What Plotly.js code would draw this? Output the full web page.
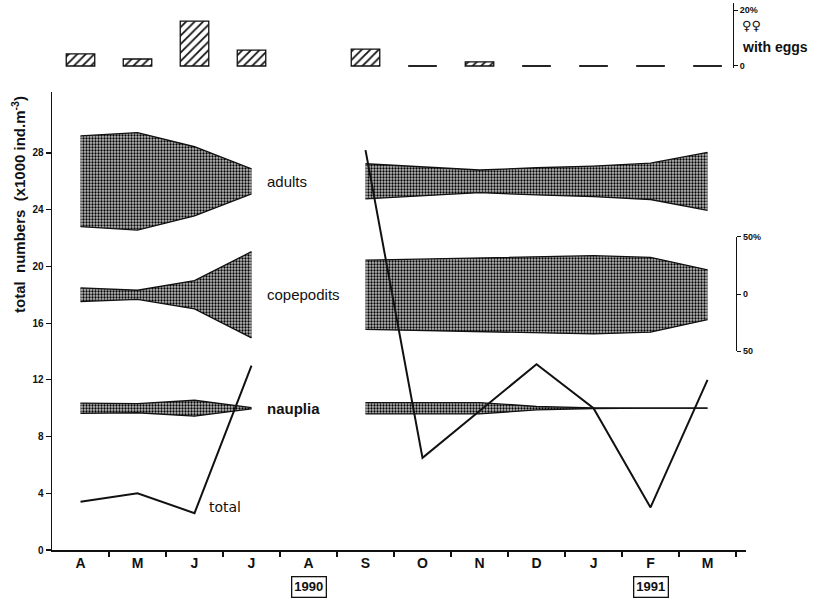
<!DOCTYPE html>
<html><head><meta charset="utf-8">
<script src="https://cdn.plot.ly/plotly-3.0.1.min.js"></script>
<style>html,body{margin:0;padding:0;background:#fff}#chart{width:813px;height:600px}</style>
</head><body><div id="chart"></div>
<script>
// ---- data ----
const monthLabels = ['A','M','J','J','A','S','O','N','D','J','F','M'];
const sampleMonthIndex = [0,1,2,3,5,6,7,8,9,10,11];      // Apr 1990 ... Mar 1991 (no August sample)
const adultsPct = [80,86,61,22,31,26,20,24,27,32,51];
const copepoditsPct = [12,8,25,76,61,63,66,68,69,66,44];
const naupliaPct = [9,8,14,1,10,10.5,10,3,0.5,0,0];
const totalNumbers = [3.4,4.0,2.6,13.0,28.2,6.5,9.8,13.1,10.0,3.0,12.0];
const eggsPct = [4.3,2.5,16,5.7,6,0,1.5,0,0,0,0];
const stageNames = ['adults','copepodits','nauplia'];
const yearLabels = ['1990','1991'];
const yearMonthIndex = [4,10];

// ---- build ----
const ink = '#111';
const xs = sampleMonthIndex.map(i => i + 0.5);
const segments = [];
let cur = [0];
for (let k = 1; k < xs.length; k++) {
  if (sampleMonthIndex[k] - sampleMonthIndex[k-1] > 1) { segments.push(cur); cur = [k]; }
  else cur.push(k);
}
segments.push(cur);

const stagePct = [adultsPct, copepoditsPct, naupliaPct];
const stageCenter = [26, 18, 10];
const unitsPerPct = 4/50;      // 50% of the scale bar = 4 units from the band centre
const traces = [];

stagePct.forEach((pct, s) => {
  segments.forEach(seg => {
    const sx = seg.map(k => xs[k]);
    const lo = seg.map(k => stageCenter[s] - pct[k]/2*unitsPerPct);
    const hi = seg.map(k => stageCenter[s] + pct[k]/2*unitsPerPct);
    traces.push({type:'scatter', mode:'lines', x:sx, y:lo, line:{color:ink, width:1.3}, hoverinfo:'skip'});
    traces.push({type:'scatter', mode:'lines', x:sx, y:hi, line:{color:ink, width:1.3}, hoverinfo:'skip',
      fill:'tonexty', fillcolor:'#9a9a9a',
      fillpattern:{shape:'.', size:3, solidity:0.45, fgcolor:'#000', bgcolor:'#bdbdbd'}});
  });
});

segments.forEach(seg => {
  traces.push({type:'scatter', mode:'lines', x:seg.map(k => xs[k]), y:seg.map(k => totalNumbers[k]),
    line:{color:ink, width:2}, hoverinfo:'skip'});
});

// egg bars
traces.push({type:'bar', x:xs, y:eggsPct, width:0.5, yaxis:'y2',
  marker:{color:'#fff', line:{color:ink, width:1.3},
    pattern:{shape:'/', size:6, solidity:0.3, fgcolor:ink, bgcolor:'#fff'}}, hoverinfo:'skip'});
// zero-height samples drawn as a flat line
const zx = [], zy = [];
xs.forEach((x, k) => { if (eggsPct[k] === 0) { zx.push(x-0.25, x+0.25, null); zy.push(0, 0, null); } });
traces.push({type:'scatter', mode:'lines', x:zx, y:zy, yaxis:'y2', line:{color:ink, width:1.3}, hoverinfo:'skip'});
// anchor trace for the percentage scale bar
traces.push({type:'scatter', mode:'markers', x:[0], y:[0], yaxis:'y3', marker:{opacity:0}, hoverinfo:'skip'});

const bold = {family:'Liberation Sans, Arial, sans-serif', weight:'bold', color:ink};
const annotations = [];
stageNames.forEach((n, s) => {
  annotations.push({x:3.74, y:stageCenter[s], xref:'x', yref:'y', text:n, showarrow:false, xanchor:'left', yanchor:'middle',
    font:{family:'Liberation Sans, Arial, sans-serif', size:15, color:ink, weight: s===2 ? 'bold' : 'normal'}});
});
annotations.push({x:2.72, y:3.0, xref:'x', yref:'y', text:'total', showarrow:false, xanchor:'left', yanchor:'middle',
  font:{family:'DejaVu Sans, sans-serif', size:14, color:ink}});
yearLabels.forEach((t, i) => {
  annotations.push({x:yearMonthIndex[i]+0.5, y:-0.0673, xref:'x', yref:'paper', text:t, showarrow:false,
    xanchor:'center', yanchor:'middle', bordercolor:ink, borderwidth:1.3, borderpad:2,
    font:Object.assign({size:13}, bold)});
});
annotations.push({x:-0.0475, y:0.6273, xref:'paper', yref:'paper', textangle:-90, showarrow:false,
  xanchor:'center', yanchor:'middle',
  text:'total\u00a0\u00a0numbers\u00a0\u00a0(x1000 ind.m<sup>-3</sup>)',
  font:Object.assign({size:15}, bold)});
annotations.push({x:0.9914, y:0.953, xref:'paper', yref:'paper', text:'\u2640\u2640', showarrow:false,
  xanchor:'left', yanchor:'middle', font:{family:'DejaVu Sans, sans-serif', weight:'bold', size:13, color:ink}});
annotations.push({x:0.9914, y:0.915, xref:'paper', yref:'paper', text:'with eggs', showarrow:false,
  xanchor:'left', yanchor:'middle', font:Object.assign({size:14}, bold)});

const layout = {
  width:813, height:600,
  margin:{l:52, r:67, t:0, b:50},
  paper_bgcolor:'#fff', plot_bgcolor:'rgba(0,0,0,0)',
  showlegend:false,
  font:{family:'Liberation Sans, Arial, sans-serif', color:ink},
  xaxis:{range:[0,12.175], showgrid:false, zeroline:false, showline:true, linecolor:ink, linewidth:1.5,
    tickmode:'array', tickvals:monthLabels.map((_, i) => i + 0.5), ticktext:monthLabels, ticks:'',
    tickfont:Object.assign({size:14}, bold),
    minor:{tickmode:'array', tickvals:monthLabels.map((_, i) => i + 1), ticks:'outside', ticklen:5, tickcolor:ink, tickwidth:1.2}},
  yaxis:{domain:[0,0.8327], range:[0,32.3], tickmode:'array', tickvals:[0,4,8,12,16,20,24,28],
    ticks:'outside', ticklen:5, tickwidth:1.2, tickcolor:ink, showline:true, linecolor:ink, linewidth:1.5,
    showgrid:false, zeroline:false, tickfont:Object.assign({size:10}, bold)},
  yaxis2:{domain:[0.8764,0.9945], range:[-0.714,22.5], anchor:'free', position:0.981, side:'right',
    showline:true, linecolor:ink, linewidth:1.2, tickmode:'array', tickvals:[0,20], ticktext:['0','20%'],
    ticks:'outside', ticklen:4, tickcolor:ink, showgrid:false, zeroline:false, tickfont:Object.assign({size:9}, bold)},
  yaxis3:{domain:[0.3618,0.5691], range:[-50,50], anchor:'free', position:0.9856, side:'right',
    showline:true, linecolor:ink, linewidth:1.2, tickmode:'array', tickvals:[-50,0,50], ticktext:['50','0','50%'],
    ticks:'outside', ticklen:4, tickcolor:ink, showgrid:false, zeroline:false, tickfont:Object.assign({size:9}, bold)},
  annotations:annotations
};

Plotly.newPlot('chart', traces, layout, {staticPlot:true, displayModeBar:false});
</script>
</body></html>
